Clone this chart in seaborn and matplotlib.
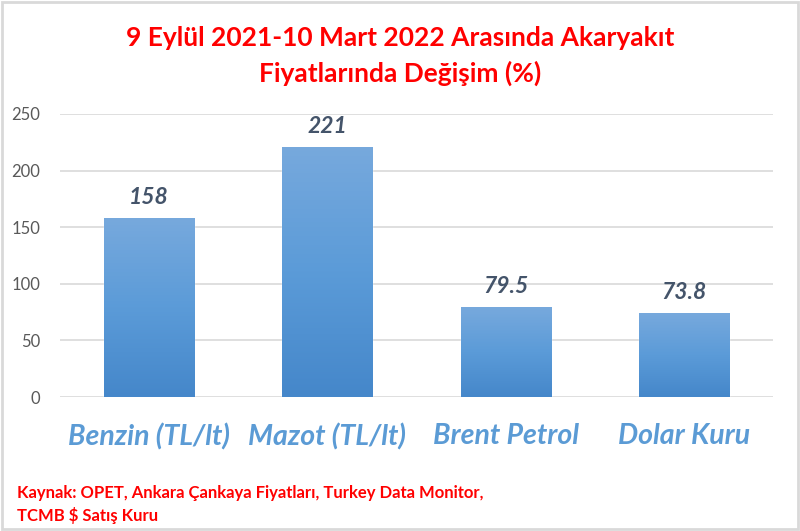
import numpy as np
import pandas as pd
import matplotlib
matplotlib.use("Agg")
import matplotlib.pyplot as plt
import seaborn as sns
from matplotlib.colors import LinearSegmentedColormap
from matplotlib.patches import Rectangle

categories = ["Benzin (TL/lt)", "Mazot (TL/lt)", "Brent Petrol", "Dolar Kuru"]
values = [158, 221, 79.5, 73.8]
value_labels = ["158", "221", "79.5", "73.8"]
yticks = [0, 50, 100, 150, 200, 250]

sns.set_theme(style="white")
plt.rcParams['font.family'] = ['Lato', 'DejaVu Sans']

df = pd.DataFrame({"cat": categories, "val": values})

fig = plt.figure(figsize=(8, 5.31), dpi=100)
ax = fig.add_axes([60/800, 1-397/531, (773-60)/800, (397-114)/531])

sns.barplot(data=df, x="cat", y="val", ax=ax, color="#5B9BD5", width=0.505, saturation=1)

ax.set_ylim(0, 250)
ax.set_xlim(-0.5, 3.5)
ax.set_yticks(yticks)
ax.set_yticklabels([str(t) for t in yticks], color="#595959", fontsize=12)
ax.yaxis.grid(True, color="#D9D9D9", linewidth=1.2)
ax.set_axisbelow(True)
for s in ax.spines.values():
    s.set_visible(False)
ax.tick_params(axis="y", length=0, pad=14)
ax.tick_params(axis="x", length=0, pad=19)
ax.set_xlabel("")
ax.set_ylabel("")
ax.set_xticks(range(len(categories)))
ax.set_xticklabels(categories, color="#5B9BD5", fontsize=20.5, fontweight="bold", fontstyle="italic")

cmap = LinearSegmentedColormap.from_list("g", ["#4587CA", "#5B9BD8", "#77A9DD"])
grad = np.linspace(0, 1, 256).reshape(-1, 1)
for patch, lab in zip(ax.patches, value_labels):
    x0, y0 = patch.get_x(), patch.get_y()
    w, h = patch.get_width(), patch.get_height()
    im = ax.imshow(grad, cmap=cmap, aspect="auto", origin="lower",
                   extent=[x0, x0 + w, y0, y0 + h], zorder=patch.get_zorder() + 0.1)
    im.set_clip_path(patch)
    ax.text(x0 + w / 2, h + 9, lab, ha="center", va="bottom", color="#44546A",
            fontsize=16.5, fontweight="bold", fontstyle="italic")
ax.set_xlim(-0.5, 3.5)
ax.set_ylim(0, 250)

fig.text(0.5, 1 - 38/531, "9 Eylül 2021-10 Mart 2022 Arasında Akaryakıt", ha="center", va="center",
         color="#FF0000", fontsize=19, fontweight="bold")
fig.text(0.5, 1 - 73/531, "Fiyatlarında Değişim (%)", ha="center", va="center",
         color="#FF0000", fontsize=19, fontweight="bold")

fig.text(17/800, 1 - 493/531, "Kaynak: OPET, Ankara Çankaya Fiyatları, Turkey Data Monitor,", ha="left", va="center",
         color="#FF0000", fontsize=12, fontweight="bold")
fig.text(17/800, 1 - 516/531, "TCMB $ Satış Kuru", ha="left", va="center",
         color="#FF0000", fontsize=12, fontweight="bold")

fig.patches.append(Rectangle((0.002, 0.003), 0.995, 0.994, transform=fig.transFigure,
                             fill=False, edgecolor="#D9D9D9", linewidth=2))

fig.savefig("out.png", dpi=100)
